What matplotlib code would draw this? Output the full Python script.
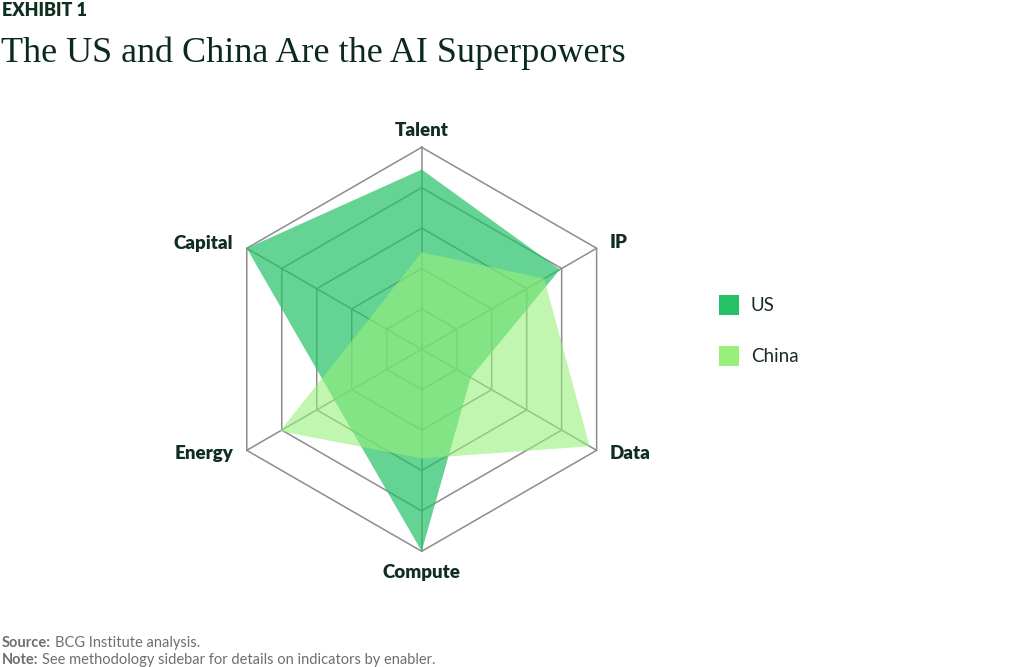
import numpy as np
import matplotlib
matplotlib.use("Agg")
import matplotlib.pyplot as plt
from matplotlib.patches import Rectangle

# DATA
categories = ["Talent", "IP", "Data", "Compute", "Energy", "Capital"]
us_values = [0.89, 0.79, 0.28, 1.00, 0.50, 1.00]
china_values = [0.48, 0.70, 0.96, 0.54, 0.81, 0.30]
ring_levels = [0.2, 0.4, 0.6, 0.8, 1.0]
series_names = ["US", "China"]

US_COLOR = "#24c166"
CHINA_COLOR = "#96f07b"
GRID_COLOR = "#8c8c8c"
DARK = "#0f2e1f"
GRAY = "#6e6e6e"

W, H = 1024, 667
fig = plt.figure(figsize=(W / 100, H / 100), dpi=100)
fig.patch.set_facecolor("white")

# axes placed so that 1 data unit = 202 px, centre at (421.7, 349.3)
R_PX = 202
cx, cy = 421.7, 349.3
half = 1.3 * R_PX
ax = fig.add_axes([(cx - half) / W, (H - cy - half) / H, 2 * half / W, 2 * half / H])
ax.set_xlim(-1.3, 1.3)
ax.set_ylim(-1.3, 1.3)
ax.set_aspect("equal")
ax.axis("off")

n = len(categories)
angles = np.deg2rad(90 - 60 * np.arange(n))


def to_xy(vals):
    vals = np.asarray(vals)
    x = vals * np.cos(angles)
    y = vals * np.sin(angles)
    return np.append(x, x[0]), np.append(y, y[0])


#GRID
for lvl in ring_levels:
    gx, gy = to_xy([lvl] * n)
    ax.plot(gx, gy, color=GRID_COLOR, lw=1.1, zorder=1)
for a in angles:
    ax.plot([0, np.cos(a)], [0, np.sin(a)], color=GRID_COLOR, lw=1.1, zorder=1)

#SERIES
ux, uy = to_xy(us_values)
ax.fill(ux, uy, color=US_COLOR, alpha=0.7, lw=0, zorder=2)
chx, chy = to_xy(china_values)
ax.fill(chx, chy, color=CHINA_COLOR, alpha=0.6, lw=0, zorder=3)

#AXIS LABELS
lab_font = dict(family="Lato", fontweight="heavy", fontsize=13.5, color=DARK)
label_pos = {
    "Talent": (0.0, 1.056, "center"),
    "IP": (0.929, 0.503, "left"),
    "Data": (0.929, -0.545, "left"),
    "Compute": (0.0, -1.134, "center"),
    "Energy": (-0.933, -0.545, "right"),
    "Capital": (-0.933, 0.495, "right"),
}
for cat in categories:
    lx, ly, ha = label_pos[cat]
    ax.text(lx, ly, cat, ha=ha, va="baseline", **lab_font)

#LEGEND
for i, (name, col) in enumerate(zip(series_names, [US_COLOR, CHINA_COLOR])):
    top = 295 + i * 50.5
    fig.patches.append(Rectangle((719 / W, 1 - (top + 20) / H), 20 / W, 20 / H,
                                 transform=fig.transFigure, facecolor=col,
                                 edgecolor="none"))
    fig.text(751 / W, 1 - (top + 10.5) / H, name, ha="left", va="center",
             family="Lato", fontsize=13.5, color="#1a2a22")

#TITLES
fig.text(2 / W, 1 - 16.5 / H, "EXHIBIT 1", ha="left", va="baseline",
         family="Lato", fontweight="heavy", fontsize=13, color=DARK)
fig.text(1 / W, 1 - 61.7 / H, "The US and China Are the AI Superpowers",
         ha="left", va="baseline", family="Liberation Serif", fontsize=26,
         color="#0c2a1b")

#FOOTER
renderer = fig.canvas.get_renderer()
for base_y, bold, rest in [(646.7, "Source:", "BCG Institute analysis."),
                           (664, "Note:", "See methodology sidebar for details on indicators by enabler.")]:
    t = fig.text(2 / W, 1 - base_y / H, bold, ha="left", va="baseline",
                 family="Lato", fontweight="bold", fontsize=10.5, color=GRAY)
    bb = t.get_window_extent(renderer)
    fig.text((bb.x1 + 4) / W, 1 - base_y / H, rest, ha="left", va="baseline",
             family="Lato", fontsize=10.5, color=GRAY)

fig.savefig("out.png", dpi=100)
